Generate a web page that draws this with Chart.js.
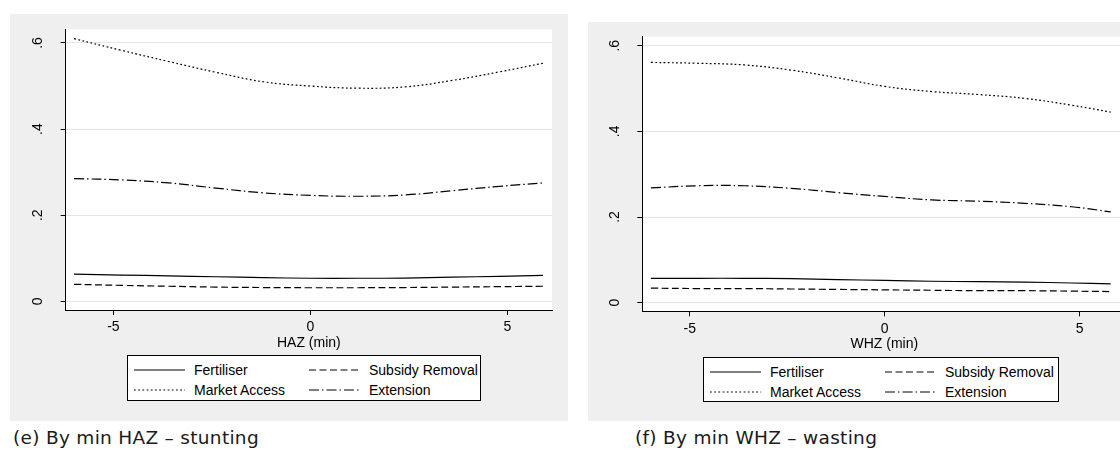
<!DOCTYPE html>
<html>
<head>
<meta charset="utf-8">
<script src="https://cdn.jsdelivr.net/npm/chart.js@4.4.1/dist/chart.umd.min.js"></script>
<style>
  html, body { margin: 0; padding: 0; background: #fff; width: 1120px; height: 452px; overflow: hidden; position: relative; }
  .panel { position: absolute; background: #efefef; overflow: hidden; }
  .panel canvas { position: absolute; left: 0; top: 0; }
  .legend { position: absolute; background: #fff; border: 1px solid #000; box-sizing: border-box;
            font: 14px "Liberation Sans", Arial, sans-serif; color: #000; }
  .legend .sw { position: absolute; width: 51px; height: 4px; }
  .legend .tx { position: absolute; line-height: 16px; white-space: nowrap; }
  .caption { position: absolute; font: 18.5px "DejaVu Sans", sans-serif; letter-spacing: 0.3px;
             line-height: 18.5px; color: #1a1a1a; white-space: nowrap; }
</style>
</head>
<body>

<div class="panel" id="panelE" style="left:10px; top:14px; width:558px; height:407px;">
  <canvas id="chartE" width="558" height="407"></canvas>
  <div class="legend" id="legendE" style="left:117px; top:341px; width:354px; height:46px;"></div>
</div>
<div class="caption" style="left:13px; top:428.6px;">(e) By min HAZ – stunting</div>

<div class="panel" id="panelF" style="left:588px; top:22px; width:560px; height:399px;">
  <canvas id="chartF" width="560" height="399"></canvas>
  <div class="legend" id="legendF" style="left:115px; top:335px; width:356px; height:45px;"></div>
</div>
<div class="caption" style="left:635px; top:428.6px;">(f) By min WHZ – wasting</div>

<script>
// series, in legend order (row by row)
const seriesNames = ['Fertiliser', 'Subsidy Removal', 'Market Access', 'Extension'];
const seriesDash = [[], [7, 3.5], [1.8, 2.4], [10, 3, 1.5, 3]];

const yTicks = [0, 0.2, 0.4, 0.6];
const yTickLabels = ['0', '.2', '.4', '.6'];
const xTicks = [-5, 0, 5];
const xTickLabels = ['-5', '0', '5'];

// (e) by min HAZ
const hazX = [-6, -4.8, -3.6, -2.4, -1.2, 0, 1.2, 2.4, 3.6, 4.8, 5.9];
const hazFertiliser = [0.063, 0.061, 0.059, 0.057, 0.055, 0.0535, 0.0535, 0.054, 0.056, 0.058, 0.060];
const hazSubsidy    = [0.0395, 0.037, 0.035, 0.033, 0.032, 0.0315, 0.0315, 0.032, 0.033, 0.034, 0.035];
const hazMarket     = [0.610, 0.583, 0.557, 0.532, 0.510, 0.500, 0.495, 0.498, 0.513, 0.533, 0.553];
const hazExtension  = [0.285, 0.282, 0.275, 0.263, 0.252, 0.246, 0.244, 0.247, 0.257, 0.267, 0.275];

// (f) by min WHZ
const whzX = [-6, -4.8, -3.6, -2.4, -1.2, 0, 1.2, 2.4, 3.6, 4.8, 5.8];
const whzFertiliser = [0.057, 0.057, 0.057, 0.056, 0.054, 0.052, 0.050, 0.049, 0.048, 0.046, 0.044];
const whzSubsidy    = [0.034, 0.033, 0.033, 0.032, 0.031, 0.030, 0.029, 0.028, 0.028, 0.027, 0.026];
const whzMarket     = [0.561, 0.559, 0.555, 0.543, 0.525, 0.505, 0.493, 0.486, 0.477, 0.461, 0.445];
const whzExtension  = [0.268, 0.273, 0.273, 0.267, 0.257, 0.248, 0.240, 0.237, 0.232, 0.224, 0.212];

const FONT = '"Liberation Sans", Arial, sans-serif';

// white plot region
const plotBg = {
  id: 'plotBg',
  beforeDraw(chart) {
    const a = chart.chartArea, ctx = chart.ctx;
    ctx.save();
    ctx.fillStyle = '#fff';
    ctx.fillRect(a.left, a.top, a.right - a.left, a.bottom - a.top);
    ctx.restore();
  }
};

// y labels turned on their side, like stata does
const yTickText = {
  id: 'yTickText',
  afterDraw(chart, args, opts) {
    const ctx = chart.ctx, sc = chart.scales.y;
    ctx.save();
    ctx.font = '14px ' + FONT;
    ctx.fillStyle = '#000';
    ctx.textAlign = 'center';
    ctx.textBaseline = 'middle';
    sc.ticks.forEach((t, i) => {
      ctx.save();
      ctx.translate(opts.x, sc.getPixelForValue(t.value));
      ctx.rotate(-Math.PI / 2);
      ctx.fillText(yTickLabels[i], 0, 0);
      ctx.restore();
    });
    ctx.restore();
  }
};

function makeChart(id, p) {
  const datasets = seriesNames.map((name, i) => ({
    label: name,
    data: p.x.map((x, j) => ({ x: x, y: p.series[i][j] })),
    borderColor: '#000',
    borderWidth: 1.2,
    borderDash: seriesDash[i],
    pointRadius: 0,
    tension: 0.4,
    fill: false
  }));

  return new Chart(document.getElementById(id), {
    type: 'line',
    data: { datasets },
    options: {
      responsive: false,
      animation: false,
      layout: { padding: p.pad },
      plugins: {
        legend: { display: false },
        tooltip: { enabled: false },
        yTickText: { x: p.labelX }
      },
      scales: {
        x: {
          type: 'linear',
          min: p.xMin, max: p.xMax,
          afterBuildTicks: s => { s.ticks = xTicks.map(v => ({ value: v })); },
          afterFit: s => { s.height = p.xH; },
          grid: { drawOnChartArea: false, tickLength: 5, tickColor: '#000' },
          border: { color: '#000', width: 1 },
          ticks: {
            color: '#000', padding: 4, font: { family: FONT, size: 14 },
            callback: (v, i) => xTickLabels[i]
          },
          title: { display: true, text: p.xTitle, color: '#000', padding: 0, font: { family: FONT, size: 14 } }
        },
        y: {
          min: p.yMin, max: p.yMax,
          afterBuildTicks: s => { s.ticks = yTicks.map(v => ({ value: v })); },
          afterFit: s => { s.width = p.yW; },
          grid: { color: '#e4e4e4', tickLength: 5, tickColor: '#000' },
          border: { color: '#000', width: 1 },
          ticks: { display: false }
        }
      }
    },
    plugins: [plotBg, yTickText]
  });
}

// legend box, 2 columns, built from the chart's own datasets
function makeLegend(elId, chart) {
  const box = document.getElementById(elId);
  const cols = [{ sw: 6, tx: 66 }, { sw: 181, tx: 241 }];
  chart.data.datasets.forEach((ds, i) => {
    const c = cols[i % 2], rowY = i < 2 ? 14 : 34;
    const svg = document.createElementNS('http://www.w3.org/2000/svg', 'svg');
    svg.setAttribute('class', 'sw');
    svg.setAttribute('width', 51);
    svg.setAttribute('height', 4);
    svg.style.left = c.sw + 'px';
    svg.style.top = (rowY - 2) + 'px';
    const ln = document.createElementNS('http://www.w3.org/2000/svg', 'line');
    ln.setAttribute('x1', 0); ln.setAttribute('x2', 51);
    ln.setAttribute('y1', 2); ln.setAttribute('y2', 2);
    ln.setAttribute('stroke', ds.borderColor);
    ln.setAttribute('stroke-width', 1);
    if (ds.borderDash.length) ln.setAttribute('stroke-dasharray', ds.borderDash.join(' '));
    svg.appendChild(ln);
    box.appendChild(svg);
    const t = document.createElement('div');
    t.className = 'tx';
    t.textContent = ds.label;
    t.style.left = c.tx + 'px';
    t.style.top = (rowY - 8) + 'px';
    box.appendChild(t);
  });
}

const chartE = makeChart('chartE', {
  x: hazX,
  series: [hazFertiliser, hazSubsidy, hazMarket, hazExtension],
  xTitle: 'HAZ (min)',
  xMin: -6.21, xMax: 6.13,
  yMin: -0.0202, yMax: 0.6318,
  pad: { top: 15.3, right: 16, bottom: 69.3, left: 0 },
  yW: 55.7, xH: 41.7, labelX: 28.3
});
makeLegend('legendE', chartE);

const chartF = makeChart('chartF', {
  x: whzX,
  series: [whzFertiliser, whzSubsidy, whzMarket, whzExtension],
  xTitle: 'WHZ (min)',
  xMin: -6.22, xMax: 6.2,
  yMin: -0.0201, yMax: 0.621,
  pad: { top: 14.7, right: 21.7, bottom: 68.3, left: 0 },
  yW: 54.3, xH: 41.4, labelX: 27.2
});
makeLegend('legendF', chartF);
</script>
</body>
</html>
